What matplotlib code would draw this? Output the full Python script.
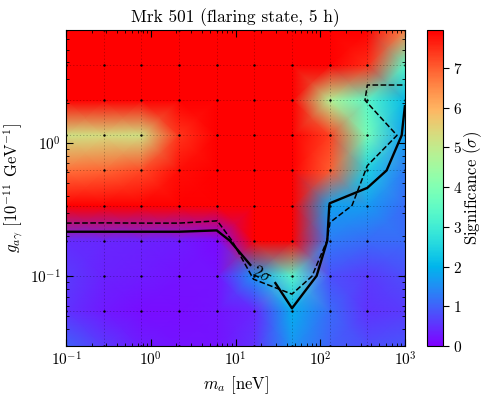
import numpy as np
import matplotlib
matplotlib.use("Agg")
import matplotlib.pyplot as plt

plt.rcParams.update({
    "font.family": "serif",
    "font.serif": ["cmr10"],
    "mathtext.fontset": "cm",
    "axes.formatter.use_mathtext": True,
    "axes.unicode_minus": False,
    "font.size": 11,
})

# ---- data -------------------------------------------------------------
m_a = np.logspace(-1, 3, 10)                          # neV
g_ag = np.logspace(np.log10(0.03), np.log10(7.0), 10)  # 1e-11 GeV^-1

# significance rows (bottom g to top g), columns follow m_a
sig_row0 = [1.00, 0.60, 0.30, 0.20, 0.20, 0.50, 1.60, 1.00, 0.80, 0.90]
sig_row1 = [0.50, 0.25, 0.15, 0.15, 0.20, 0.40, 1.92, 1.10, 0.50, 0.60]
sig_row2 = [0.60, 0.35, 0.30, 0.20, 0.20, 1.59, 3.37, 0.81, 0.60, 0.80]
sig_row3 = [0.45, 0.40, 0.35, 0.30, 0.10, 8.00, 8.44, 1.30, 1.10, 1.10]
sig_row4 = [8.20, 8.40, 8.60, 8.80, 8.25, 12.0, 17.0, 1.75, 1.67, 1.10]
sig_row5 = [6.80, 6.90, 7.20, 7.80, 10.0, 10.0, 10.0, 7.00, 2.44, 1.30]
sig_row6 = [5.20, 5.30, 5.20, 7.40, 10.0, 10.0, 9.00, 7.30, 3.80, 1.72]
sig_row7 = [10.0, 10.0, 10.0, 10.0, 10.0, 10.0, 8.00, 4.80, 3.40, 2.06]
sig_row8 = [10.0, 10.0, 10.0, 10.0, 10.0, 10.0, 10.0, 10.0, 7.50, 3.40]
sig_row9 = [10.0, 10.0, 10.0, 10.0, 10.0, 10.0, 10.0, 10.0, 8.50, 6.60]

# second (dashed) 2-sigma boundary
dashed_m = [0.1, 0.281, 0.774, 2.154, 6.10, 9.09, 16.3, 46.4, 79.9, 120.1,
            130.3, 237.0, 359.4, 804.0, 337.0, 359.4, 1000.0]
dashed_g = [0.250, 0.251, 0.250, 0.250, 0.260, 0.1847, 0.095, 0.0734, 0.100,
            0.1847, 0.253, 0.3388, 0.674, 1.137, 2.084, 2.709, 2.709]

contour_level = [2.0]
label_pos = [(20.5, 0.1017)]

sig_vmin, sig_vmax = 0.0, 7.95
cbar_ticks = [0, 1, 2, 3, 4, 5, 6, 7]

Z = np.array([sig_row0, sig_row1, sig_row2, sig_row3, sig_row4,
              sig_row5, sig_row6, sig_row7, sig_row8, sig_row9])

# ---- figure -------------------------------------------------------------
fig = plt.figure(figsize=(4.88, 3.97), dpi=100)
ax = fig.add_axes([66/488, 1-346/397, (405-66)/488, (346-30)/397])
cax = fig.add_axes([427/488, 1-346/397, 16/488, (346-30)/397])

mesh = ax.pcolormesh(m_a, g_ag, Z, shading="gouraud", cmap="rainbow",
                     vmin=sig_vmin, vmax=sig_vmax, rasterized=True)
ax.set_xscale("log")
ax.set_yscale("log")
ax.set_xlim(m_a.min(), m_a.max())
ax.set_ylim(g_ag.min(), g_ag.max())

for m in m_a:
    ax.axvline(m, color="k", ls=(0, (1.5, 2.5)), lw=0.6, alpha=0.3)
for g in g_ag:
    ax.axhline(g, color="k", ls=(0, (1.5, 2.5)), lw=0.6, alpha=0.3)
MM, GG = np.meshgrid(m_a, g_ag)
ax.scatter(MM.ravel(), GG.ravel(), s=3, color="k", zorder=3, linewidths=0)

cs = ax.contour(m_a, g_ag, Z, levels=contour_level, colors="k",
                linewidths=1.7, zorder=4)
ax.clabel(cs, fmt={contour_level[0]: r"$2\sigma$"}, manual=label_pos,
          inline=True, fontsize=12)
ax.plot(dashed_m, dashed_g, color="k", ls="--", lw=1.1, zorder=4)

ax.tick_params(which="both", direction="in", top=True, right=True)
ax.tick_params(which="major", length=5, labelsize=11)
ax.tick_params(which="minor", length=2.5)

ax.set_title("Mrk 501 (flaring state, 5 h)", fontsize=12.5)
ax.set_xlabel(r"$m_a$ [neV]", fontsize=12)
ax.set_ylabel(r"$g_{a\gamma}$ [$10^{-11}$ GeV$^{-1}$]", fontsize=12)

cb = fig.colorbar(mesh, cax=cax, ticks=cbar_ticks)
cb.set_label(r"Significance ($\sigma$)", fontsize=12, labelpad=-1)
cb.ax.tick_params(labelsize=11, length=4)

fig.savefig("out.png", dpi=100)
